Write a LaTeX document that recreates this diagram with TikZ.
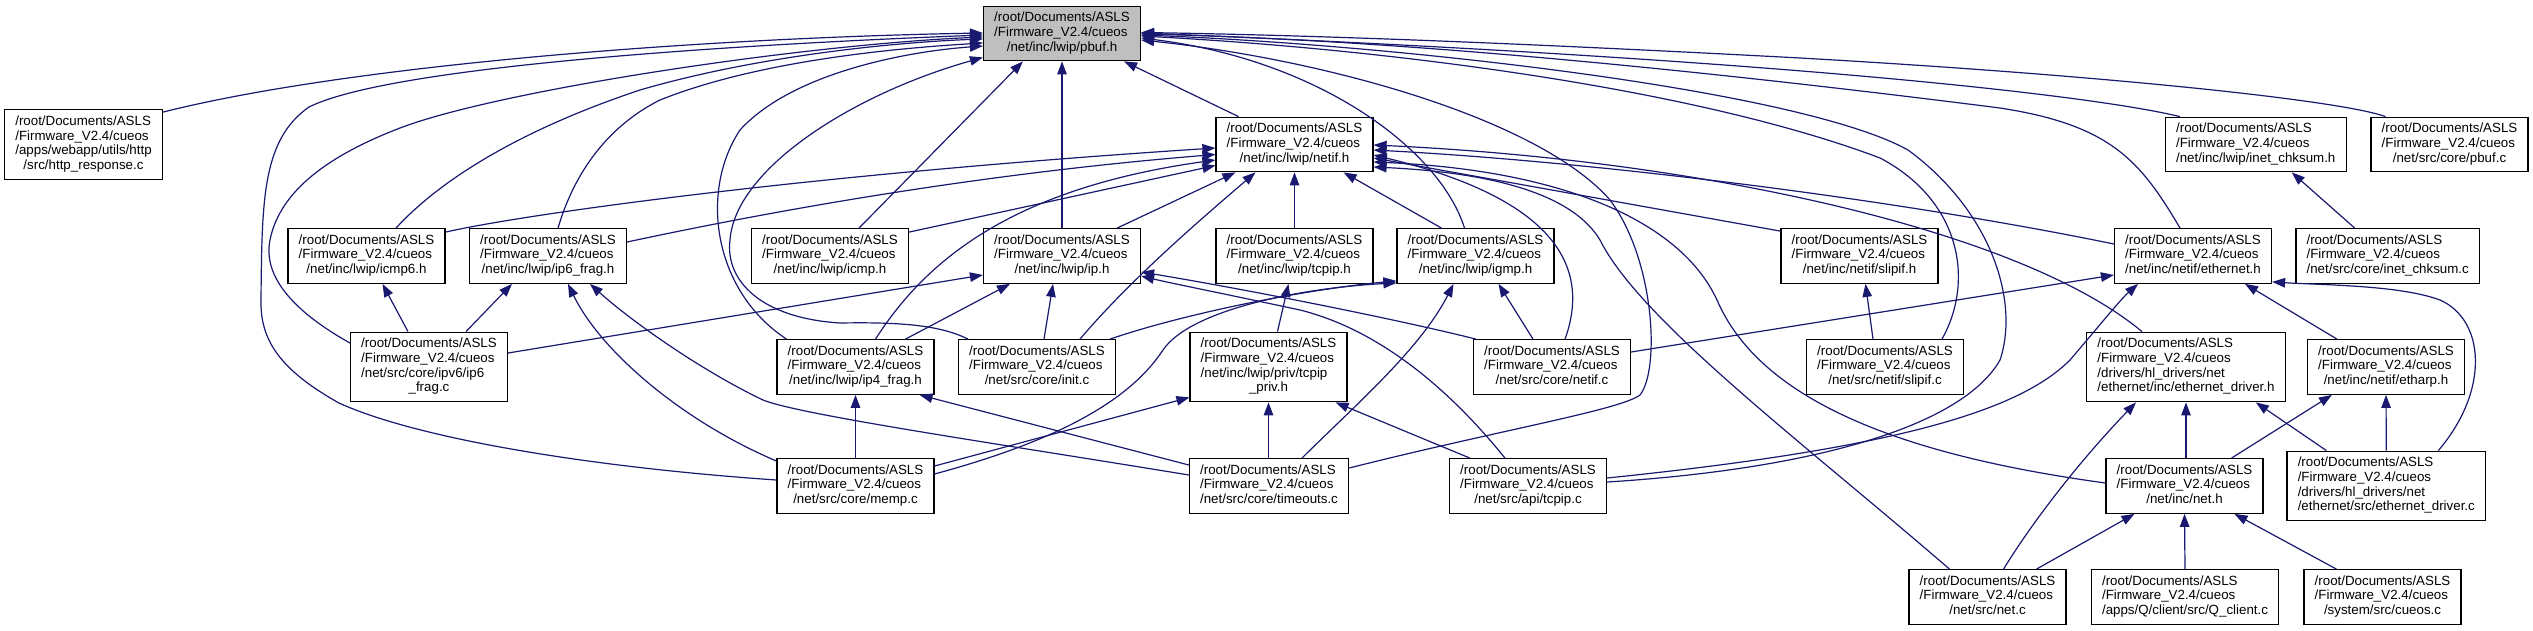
\documentclass[tikz,border=0pt]{standalone}
\usepackage{fontspec}
\setmainfont{Liberation Sans}
\usetikzlibrary{arrows.meta,calc}
\definecolor{edgeblue}{HTML}{191970}
\definecolor{focusgray}{HTML}{BFBFBF}
\newcommand{\lbl}[2]{\begin{tabular}{@{}l@{}}#1\\\multicolumn{1}{@{}c@{}}{#2}\end{tabular}}
\newcommand{\rd}{/root/Documents/ASLS\\/Firmware\_V2.4/cueos}
\tikzset{
  box/.style={draw=black, line width=1.2pt, rectangle, fill=white, inner xsep=10.7pt, inner ysep=0pt,
    minimum height=54.6pt, font=\fontsize{13.33pt}{14.7pt}\selectfont, anchor=center},
  boxfour/.style={box, minimum height=69.6pt},
  focus/.style={fill=focusgray},
  edge/.style={draw=edgeblue, line width=1.2pt, -{Triangle[length=13pt,width=9.5pt]}}
}
\begin{document}
\begin{tikzpicture}[x=1pt,y=-1pt]
\fill[white] (0,0) rectangle (2533,631);
\useasboundingbox (0,0) rectangle (2533,631);
% row 0
\node[box,focus] (pbufh) at (1062,33.5) {\lbl{\rd}{/net/inc/lwip/pbuf.h}};
% row 1
\node[boxfour] (http) at (83.5,144.5) {\lbl{\rd\\/apps/webapp/utils/http}{/src/http\_response.c}};
\node[box] (netifh) at (1294.5,144.5) {\lbl{\rd}{/net/inc/lwip/netif.h}};
\node[box] (chkh) at (2255.75,144.5) {\lbl{\rd}{/net/inc/lwip/inet\_chksum.h}};
\node[box] (pbufc) at (2449.5,144.5) {\lbl{\rd}{/net/src/core/pbuf.c}};
% row 2
\node[box] (icmp6) at (366.5,256) {\lbl{\rd}{/net/inc/lwip/icmp6.h}};
\node[box] (ip6fragh) at (548,256) {\lbl{\rd}{/net/inc/lwip/ip6\_frag.h}};
\node[box] (icmp) at (830,256) {\lbl{\rd}{/net/inc/lwip/icmp.h}};
\node[box] (iph) at (1062,256) {\lbl{\rd}{/net/inc/lwip/ip.h}};
\node[box] (tcpiph) at (1294.5,256) {\lbl{\rd}{/net/inc/lwip/tcpip.h}};
\node[box] (igmp) at (1475.5,256) {\lbl{\rd}{/net/inc/lwip/igmp.h}};
\node[box] (slipifh) at (1859.5,256) {\lbl{\rd}{/net/inc/netif/slipif.h}};
\node[box] (ethh) at (2193,256) {\lbl{\rd}{/net/inc/netif/ethernet.h}};
\node[box] (chkc) at (2387.7,256) {\lbl{\rd}{/net/src/core/inet\_chksum.c}};
% row 3
\node[boxfour] (ip6fragc) at (429,367) {\lbl{\rd\\/net/src/core/ipv6/ip6}{\_frag.c}};
\node[box] (ip4frag) at (855.5,367) {\lbl{\rd}{/net/inc/lwip/ip4\_frag.h}};
\node[box] (init) at (1037,367) {\lbl{\rd}{/net/src/core/init.c}};
\node[boxfour] (tcpippriv) at (1268.5,367) {\lbl{\rd\\/net/inc/lwip/priv/tcpip}{\_priv.h}};
\node[box] (netifc) at (1552,367) {\lbl{\rd}{/net/src/core/netif.c}};
\node[box] (slipifc) at (1885,367) {\lbl{\rd}{/net/src/netif/slipif.c}};
\node[boxfour] (ethdrvh) at (2186,367) {\lbl{\rd\\/drivers/hl\_drivers/net}{/ethernet/inc/ethernet\_driver.h}};
\node[box] (etharp) at (2386,367) {\lbl{\rd}{/net/inc/netif/etharp.h}};
% row 4
\node[box] (memp) at (855.5,486) {\lbl{\rd}{/net/src/core/memp.c}};
\node[box] (timeouts) at (1269,486) {\lbl{\rd}{/net/src/core/timeouts.c}};
\node[box] (tcpipc) at (1528,486) {\lbl{\rd}{/net/src/api/tcpip.c}};
\node[box] (neth) at (2184.5,486) {\lbl{\rd}{/net/inc/net.h}};
\node[boxfour] (ethdrvc) at (2386.3,486) {\lbl{\rd\\/drivers/hl\_drivers/net}{/ethernet/src/ethernet\_driver.c}};
% row 5
\node[box] (netc) at (1987.5,597) {\lbl{\rd}{/net/src/net.c}};
\node[box] (qclient) at (2185,597) {\lbl{\rd}{/apps/Q/client/src/Q\_client.c}};
\node[box] (cueos) at (2382.5,597) {\lbl{\rd}{/system/src/cueos.c}};

% ---- edges into pbuf.h
\draw[edge] ($(http.north east)+(0,3)$) .. controls (350,65) and (700,38) .. ($(pbufh.west)+(0,-0.5)$);
\draw[edge] ($(memp.west)+(0,-6)$) .. controls (600,468) and (420,440) .. (339,403) .. controls (280,370) and (260,340) .. (261,300) .. controls (262,200) and (262,140) .. (309,107) .. controls (400,62) and (800,42) .. ($(pbufh.west)+(0,1.5)$);
\draw[edge] ($(ip6fragc.west)+(0,-24)$) .. controls (300,315) and (262,280) .. (270,240) .. controls (280,190) and (330,155) .. (400,128) .. controls (500,90) and (800,45) .. ($(pbufh.west)+(0,3.5)$);
\draw[edge] ($(icmp6.north)+(29.5,0)$) .. controls (440,180) and (520,130) .. (640,90) .. controls (760,55) and (900,42) .. ($(pbufh.west)+(0,5.5)$);
\draw[edge] ($(ip6fragh.north)+(10,0)$) .. controls (575,170) and (610,125) .. (660,100) .. controls (760,60) and (900,48) .. ($(pbufh.west)+(0,9.5)$);
\draw[edge] ($(ip4frag.north)+(-69,0)$) .. controls (712,290) and (700,190) .. (740,130) .. controls (790,75) and (900,52) .. ($(pbufh.west)+(0,12.5)$);
\draw[edge] ($(init.north)+(-69,0)$) .. controls (940,325) and (900,322) .. (840,323) .. controls (760,318) and (725,280) .. (730,240) .. controls (735,170) and (850,95) .. ($(pbufh.south west)+(0,-4)$);
\draw[edge] ($(icmp.north)+(29,0)$) -- ($(pbufh.south west)+(40,0)$);
\draw[edge] (iph.north) -- (pbufh.south);
\draw[edge] ($(netifh.north)+(-56,0)$) -- ($(pbufh.south east)+(-17,0)$);
\draw[edge] ($(igmp.north)+(-11,0)$) .. controls (1440,150) and (1320,60) .. ($(pbufh.east)+(0,4.5)$);
\draw[edge] ($(timeouts.east)+(0,-18)$) .. controls (1500,430) and (1620,410) .. (1640,395) .. controls (1660,370) and (1655,260) .. (1610,200) .. controls (1540,120) and (1330,60) .. ($(pbufh.east)+(0,6.5)$);
\draw[edge] ($(slipifc.north)+(57,0)$) .. controls (1975,280) and (1960,200) .. (1880,158) .. controls (1700,90) and (1400,50) .. ($(pbufh.east)+(0,2.5)$);
\draw[edge] ($(tcpipc.east)+(0,-4)$) .. controls (1800,470) and (1960,430) .. (2000,360) .. controls (2020,300) and (1990,210) .. (1908,150) .. controls (1800,90) and (1400,45) .. ($(pbufh.east)+(0,1.5)$);
\draw[edge] ($(ethh.north)+(-13,0)$) .. controls (2140,160) and (2110,125) .. (2000,108) .. controls (1700,70) and (1400,40) .. ($(pbufh.east)+(0,0.5)$);
\draw[edge] ($(chkh.north west)+(15,0)$) .. controls (2100,97) and (1800,60) .. ($(pbufh.east)+(0,-0.5)$);
\draw[edge] ($(pbufc.north west)+(15,0)$) .. controls (2340,100) and (2100,75) .. (1800,58) .. controls (1500,42) and (1300,35) .. ($(pbufh.east)+(0,-1)$);

% ---- edges into netif.h
\draw[edge] ($(icmp6.north east)+(0,4)$) .. controls (520,215) and (800,175) .. ($(netifh.west)+(0,3.5)$);
\draw[edge] ($(ip6fragh.east)+(0,-14)$) .. controls (800,205) and (1000,172) .. ($(netifh.west)+(0,10)$);
\draw[edge] ($(icmp.north east)+(0,4)$) -- ($(netifh.west)+(0,21)$);
\draw[edge] ($(ip4frag.north)+(20,0)$) .. controls (920,270) and (1000,190) .. ($(netifh.west)+(0,15.5)$);
\draw[edge] ($(iph.north east)+(-24,0)$) -- ($(netifh.south west)+(20,0)$);
\draw[edge] ($(init.north)+(43,0)$) .. controls (1130,280) and (1200,220) .. ($(netifh.south west)+(40,0)$);
\draw[edge] (tcpiph.north) -- (netifh.south);
\draw[edge] ($(igmp.north)+(-34,0)$) -- ($(netifh.south east)+(-30,0)$);
\draw[edge] ($(slipifh.north west)+(0,3)$) -- ($(netifh.east)+(0,13.5)$);
\draw[edge] ($(ethh.west)+(0,-12)$) .. controls (1900,200) and (1600,162) .. ($(netifh.east)+(0,5.5)$);
\draw[edge] ($(netifc.north)+(13,0)$) .. controls (1590,270) and (1560,200) .. ($(netifh.east)+(0,10.5)$);
\draw[edge] ($(ethdrvh.north)+(-44,0)$) .. controls (2020,230) and (1700,160) .. ($(netifh.east)+(0,0.5)$);
\draw[edge] ($(neth.west)+(0,-3)$) .. controls (1900,455) and (1760,400) .. (1717,300) .. controls (1680,220) and (1560,170) .. ($(netifh.east)+(0,17.5)$);
\draw[edge] ($(netc.north)+(-38,0)$) .. controls (1800,440) and (1640,320) .. (1600,240) .. controls (1570,190) and (1480,172) .. ($(netifh.east)+(0,22.5)$);

% ---- remaining edges
\draw[edge] ($(chkc.north)+(-33,0)$) -- ($(chkh.south)+(36,0)$);
\draw[edge] ($(ip6fragc.north)+(-21,0)$) -- ($(icmp6.south)+(16,0)$);
\draw[edge] ($(ip6fragc.north)+(37,0)$) -- ($(ip6fragh.south)+(-36,0)$);
\draw[edge] ($(ip6fragc.east)+(0,-14)$) -- ($(iph.west)+(0,19)$);
\draw[edge] ($(memp.west)+(0,-25)$) .. controls (680,420) and (600,350) .. ($(ip6fragh.south)+(20,0)$);
\draw[edge] ($(timeouts.west)+(0,-11)$) .. controls (1000,444) and (800,415) .. (763,400) .. controls (700,370) and (630,320) .. ($(ip6fragh.south)+(42,0)$);
\draw[edge] ($(ip4frag.north)+(50,0)$) -- ($(iph.south)+(-52,0)$);
\draw[edge] ($(init.north)+(7,0)$) -- ($(iph.south)+(-9,0)$);
\draw[edge] ($(netifc.north west)+(3,0)$) .. controls (1400,320) and (1250,290) .. ($(iph.east)+(0,16)$);
\draw[edge] ($(tcpipc.north)+(-23,0)$) .. controls (1450,390) and (1380,330) .. (1300,310) .. controls (1230,295) and (1170,283) .. ($(iph.east)+(0,20)$);
\draw[edge] ($(tcpippriv.north)+(9,0)$) -- ($(tcpiph.south)+(-6,0)$);
\draw[edge] ($(init.north east)+(-6,0)$) .. controls (1180,315) and (1300,290) .. ($(igmp.south west)+(0,-3)$);
\draw[edge] ($(memp.east)+(0,-12)$) .. controls (1060,440) and (1130,400) .. (1163,350) .. controls (1190,310) and (1300,288) .. ($(igmp.south west)+(0,-1)$);
\draw[edge] ($(netifc.north)+(-19,0)$) -- ($(igmp.south)+(23,0)$);
\draw[edge] ($(timeouts.north)+(33,0)$) .. controls (1350,410) and (1420,350) .. ($(igmp.south)+(-22,0)$);
\draw[edge] ($(slipifc.north)+(-12,0)$) -- ($(slipifh.south)+(6,0)$);
\draw[edge] ($(netifc.east)+(0,-15)$) -- ($(ethh.west)+(0,19)$);
\draw[edge] ($(tcpipc.east)+(0,-8)$) .. controls (1900,448) and (2020,410) .. (2070,360) .. controls (2100,325) and (2120,300) .. ($(ethh.south)+(-55,0)$);
\draw[edge] ($(etharp.north west)+(30,0)$) -- ($(ethh.south)+(52,0)$);
\draw[edge] ($(ethdrvc.north)+(52,0)$) .. controls (2490,390) and (2485,320) .. (2440,300) .. controls (2400,285) and (2320,285) .. ($(ethh.south east)+(0,-2)$);
\draw[edge] (memp.north) -- (ip4frag.south);
\draw[edge] ($(timeouts.west)+(0,-21)$) -- ($(ip4frag.south east)+(-15,0)$);
\draw[edge] ($(memp.east)+(0,-20)$) -- ($(tcpippriv.south west)+(0,-5)$);
\draw[edge] ($(timeouts.north)+(-0.5,0)$) -- (tcpippriv.south);
\draw[edge] ($(tcpipc.north west)+(21,0)$) -- ($(tcpippriv.south east)+(-12,0)$);
\draw[edge] ($(netc.north)+(16,0)$) .. controls (2040,510) and (2090,450) .. ($(ethdrvh.south)+(-50,0)$);
\draw[edge] ($(neth.north)+(1.5,0)$) -- (ethdrvh.south);
\draw[edge] ($(ethdrvc.north west)+(40,0)$) -- ($(ethdrvh.south east)+(-30,0)$);
\draw[edge] ($(neth.north)+(47,0)$) -- ($(etharp.south west)+(25,0)$);
\draw[edge] (ethdrvc.north) -- (etharp.south);
\draw[edge] ($(netc.north)+(49,0)$) -- ($(neth.south)+(-50,0)$);
\draw[edge] (qclient.north) -- (neth.south);
\draw[edge] ($(cueos.north west)+(33,0)$) -- ($(neth.south)+(50,0)$);
\end{tikzpicture}
\end{document}
